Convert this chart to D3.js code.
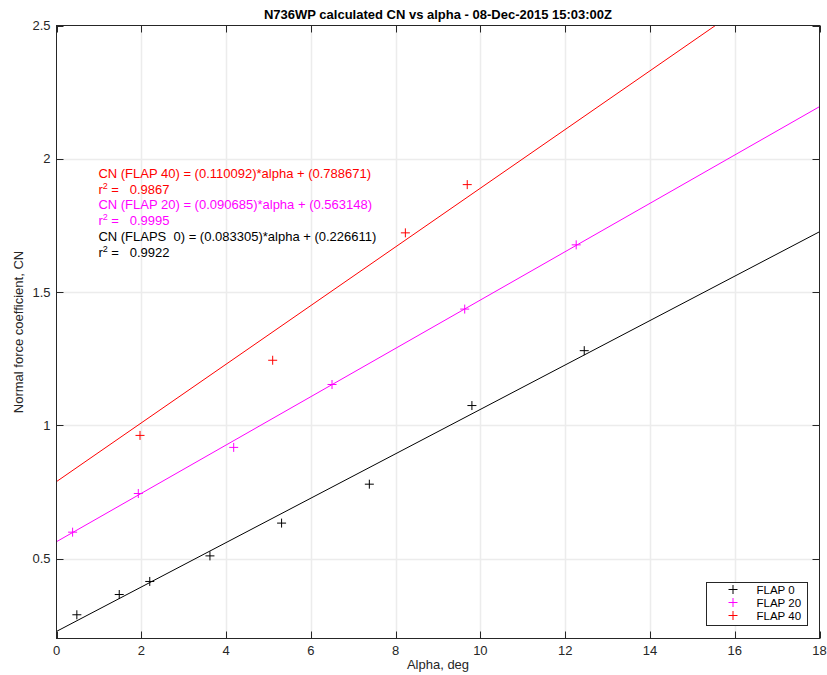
<!DOCTYPE html>
<html>
<head>
<meta charset="utf-8">
<script src="https://cdn.jsdelivr.net/npm/d3@7"></script>
<style>
  html, body { margin: 0; padding: 0; background: #fff; }
  svg { display: block; font-family: "Liberation Sans", Arial, sans-serif; }
  .ann text { white-space: pre; }
</style>
</head>
<body>
<svg id="chart" width="827" height="675"></svg>
<script>
// Measured points (alpha in deg, CN)
const flap0Alpha  = [0.48, 1.48, 2.20, 3.62, 5.31, 7.38, 9.80, 12.45];
const flap0CN     = [0.289, 0.365, 0.414, 0.510, 0.633, 0.779, 1.074, 1.280];
const flap20Alpha = [0.38, 1.93, 4.18, 6.50, 9.63, 12.26];
const flap20CN    = [0.599, 0.744, 0.917, 1.153, 1.436, 1.677];
const flap40Alpha = [1.97, 5.10, 8.23, 9.69];
const flap40CN    = [0.962, 1.244, 1.722, 1.903];

// Linear fits: slope, intercept, r^2
const fitNames      = ["FLAP 40", "FLAP 20", "FLAPS  0"];
const fitSlopes     = [0.110092, 0.090685, 0.083305];
const fitIntercepts = [0.788671, 0.563148, 0.226611];
const fitR2         = ["0.9867", "0.9995", "0.9922"];
const fitColors     = ["#ff0000", "#ff00ff", "#000000"];

const legendNames  = ["FLAP 0", "FLAP 20", "FLAP 40"];
const legendColors = ["#000000", "#ff00ff", "#ff0000"];

const xTicks = [0, 2, 4, 6, 8, 10, 12, 14, 16, 18];
const yTicks = [0.5, 1, 1.5, 2, 2.5];
const xDomain = [0, 18];
const yDomain = [0.2, 2.5];

const svg = d3.select("#chart");
const pLeft = 56.5, pRight = 819.5, pTop = 25.5, pBottom = 638.5;

const x = d3.scaleLinear().domain(xDomain).range([pLeft, pRight]);
const y = d3.scaleLinear().domain(yDomain).range([pBottom, pTop]);

// grid
const grid = svg.append("g");
grid.selectAll("line.gx").data(xTicks.slice(1, -1)).join("line")
  .attr("x1", d => Math.round(x(d)) + 0.5).attr("x2", d => Math.round(x(d)) + 0.5)
  .attr("y1", pTop).attr("y2", pBottom)
  .attr("stroke", "#ececec").attr("stroke-width", 1.5);
grid.selectAll("line.gy").data(yTicks.slice(0, -1)).join("line")
  .attr("y1", d => Math.round(y(d)) + 0.5).attr("y2", d => Math.round(y(d)) + 0.5)
  .attr("x1", pLeft).attr("x2", pRight)
  .attr("stroke", "#ececec").attr("stroke-width", 1.5);

// clip
svg.append("defs").append("clipPath").attr("id", "plotclip")
  .append("rect").attr("x", pLeft).attr("y", pTop)
  .attr("width", pRight - pLeft).attr("height", pBottom - pTop);

const plot = svg.append("g").attr("clip-path", "url(#plotclip)");

// fit lines
fitSlopes.forEach((m, i) => {
  const b = fitIntercepts[i];
  plot.append("line")
    .attr("x1", x(xDomain[0])).attr("y1", y(m * xDomain[0] + b))
    .attr("x2", x(xDomain[1])).attr("y2", y(m * xDomain[1] + b))
    .attr("stroke", fitColors[i]).attr("stroke-width", 1);
});

// plus markers
function plusMarks(g, xs, ys, color) {
  const pts = xs.map((a, i) => [a, ys[i]]);
  g.selectAll(null).data(pts).join("path")
    .attr("d", d => {
      const cx = x(d[0]), cy = y(d[1]), r = 4.5;
      return `M${cx - r},${cy}H${cx + r}M${cx},${cy - r}V${cy + r}`;
    })
    .attr("stroke", color).attr("stroke-width", 1).attr("fill", "none");
}
plusMarks(plot, flap0Alpha, flap0CN, "#000000");
plusMarks(plot, flap20Alpha, flap20CN, "#ff00ff");
plusMarks(plot, flap40Alpha, flap40CN, "#ff0000");

// equation annotations
const ann = svg.append("g").attr("class", "ann").attr("font-size", 13);
fitSlopes.forEach((m, i) => {
  const y0 = 178 + i * 31.4;
  ann.append("text").attr("x", x(1) - 0.5).attr("y", y0).attr("fill", fitColors[i])
    .text(`CN (${fitNames[i]}) = (${m.toFixed(6)})*alpha + (${fitIntercepts[i].toFixed(6)})`);
  const t = ann.append("text").attr("x", x(1) - 0.5).attr("y", y0 + 16).attr("fill", fitColors[i]);
  t.append("tspan").text("r");
  t.append("tspan").attr("dy", -5).attr("font-size", 9).text("2");
  t.append("tspan").attr("dy", 5).text(" =   " + fitR2[i]);
});

// axes box
const axisColor = "#262626";
svg.append("rect").attr("x", pLeft).attr("y", pTop)
  .attr("width", pRight - pLeft).attr("height", pBottom - pTop)
  .attr("fill", "none").attr("stroke", axisColor).attr("stroke-width", 1);

// inward ticks
const tl = 7;
const ticks = svg.append("g").attr("stroke", axisColor).attr("stroke-width", 1);
xTicks.forEach(d => {
  const px = Math.round(x(d)) + 0.5;
  ticks.append("line").attr("x1", px).attr("x2", px).attr("y1", pBottom).attr("y2", pBottom - tl);
  ticks.append("line").attr("x1", px).attr("x2", px).attr("y1", pTop).attr("y2", pTop + tl);
});
yTicks.forEach(d => {
  const py = Math.round(y(d)) + 0.5;
  ticks.append("line").attr("y1", py).attr("y2", py).attr("x1", pLeft).attr("x2", pLeft + tl);
  ticks.append("line").attr("y1", py).attr("y2", py).attr("x1", pRight).attr("x2", pRight - tl);
});

// tick labels
const lab = svg.append("g").attr("font-size", 13).attr("fill", axisColor);
lab.selectAll("text.xt").data(xTicks).join("text")
  .attr("x", d => x(d)).attr("y", pBottom + 16).attr("text-anchor", "middle")
  .text(d => d3.format("d")(d));
lab.selectAll("text.yt").data(yTicks).join("text")
  .attr("x", pLeft - 6).attr("y", d => y(d) + 4.5).attr("text-anchor", "end")
  .text(d => String(d));

// axis titles
svg.append("text").attr("x", (pLeft + pRight) / 2).attr("y", 669)
  .attr("text-anchor", "middle").attr("font-size", 13).attr("fill", axisColor)
  .text("Alpha, deg");
svg.append("text")
  .attr("transform", `translate(23,${(pTop + pBottom) / 2}) rotate(-90)`)
  .attr("text-anchor", "middle").attr("font-size", 13).attr("fill", axisColor)
  .text("Normal force coefficient, CN");

// title
svg.append("text").attr("x", (pLeft + pRight) / 2).attr("y", 19)
  .attr("text-anchor", "middle").attr("font-size", 13).attr("font-weight", "bold")
  .attr("fill", "#000")
  .text("N736WP calculated CN vs alpha - 08-Dec-2015 15:03:00Z");

// legend
const lg = svg.append("g");
lg.append("rect").attr("x", 706.5).attr("y", 582.5).attr("width", 101).attr("height", 43)
  .attr("fill", "#fff").attr("stroke", axisColor).attr("stroke-width", 1);
legendNames.forEach((n, i) => {
  const cy = 589.5 + i * 13;
  const cx = 733;
  lg.append("path").attr("d", `M${cx - 4.5},${cy}H${cx + 4.5}M${cx},${cy - 4.5}V${cy + 4.5}`)
    .attr("stroke", legendColors[i]).attr("stroke-width", 1);
  lg.append("text").attr("x", 756.5).attr("y", cy + 4).attr("font-size", 11.5)
    .attr("fill", "#000").text(n);
});
</script>
</body>
</html>
